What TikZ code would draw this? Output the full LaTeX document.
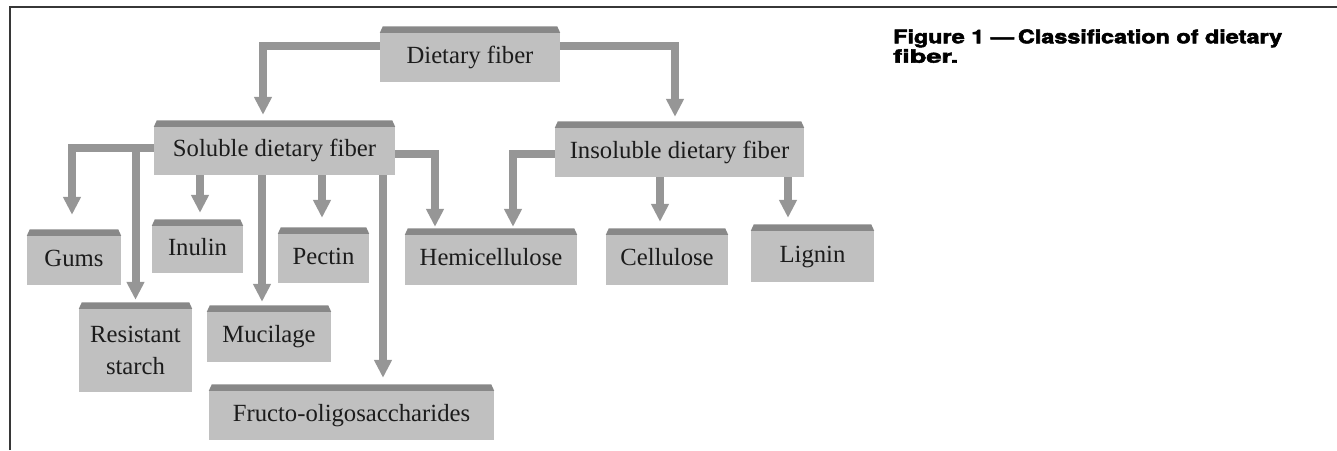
\documentclass[tikz,border=0pt]{standalone}
\usepackage{fontspec}
\usepackage{graphicx}
\setmainfont{Liberation Serif}
\newfontfamily\capfont[BoldFeatures={FakeBold=2.5}]{TeX Gyre Heros}
\usetikzlibrary{arrows.meta}
\definecolor{boxbody}{RGB}{192,192,192}
\definecolor{boxtop}{RGB}{136,136,136}
\definecolor{arrowgray}{RGB}{150,150,150}
\definecolor{ink}{RGB}{28,28,28}
\definecolor{framec}{RGB}{55,55,55}
\begin{document}
\begin{tikzpicture}[x=1pt,y=-1pt,
  box/.style={fill=boxbody, text=ink, inner sep=0pt,
    font=\fontsize{24.7}{28}\selectfont, text height=17pt, text depth=5.5pt},
  arr/.style={draw=arrowgray, line width=8pt,
    -{Triangle[width=17pt,length=18pt]}},
  capline/.style={anchor=base west, inner sep=0pt, text=black,
    font=\capfont\bfseries\fontsize{19.5}{19.4}\selectfont},
]
\useasboundingbox (0,0) rectangle (1337,450);

% frame
\draw[framec, line width=1.5pt] (10,450) -- (10,7) -- (1337,7);

% caption, set line by line
\node[capline] (cap1) at (893,43.3)
  {\resizebox{389pt}{14pt}{Figure 1 \textemdash\,Classification of dietary}};
\node[capline] (cap2) at (893,62.7) {\resizebox{65pt}{13.6pt}{fiber.}};

% boxes (body only; the darker top strip is added below)
\node[box, minimum width=180pt, minimum height=49pt] (df)  at (470,57.5) {Dietary fiber};
\node[box, minimum width=241pt, minimum height=48pt] (sol) at (274.5,151) {Soluble dietary fiber};
\node[box, minimum width=249pt, minimum height=49pt] (ins) at (679.5,152.5) {Insoluble dietary fiber};
\node[box, minimum width=94pt,  minimum height=49pt] (gums) at (74,260.5) {Gums};
\node[box, minimum width=91pt,  minimum height=47pt] (inu) at (197.5,249.5) {Inulin};
\node[box, minimum width=91pt,  minimum height=49pt] (pec) at (323.5,258.5) {Pectin};
\node[box, minimum width=172pt, minimum height=50pt] (hemi) at (491,260) {Hemicellulose};
\node[box, minimum width=122pt, minimum height=50pt] (cell) at (667,260) {Cellulose};
\node[box, minimum width=123pt, minimum height=51pt] (lig) at (812.5,256.5) {Lignin};
\node[box, minimum width=113pt, minimum height=83pt, align=center,
  text height=, text depth=, font=\fontsize{24.7}{32.5}\selectfont] (res) at (135.5,350.5) {Resistant\\starch};
\node[box, minimum width=124pt, minimum height=50pt] (muc) at (269,337) {Mucilage};
\node[box, minimum width=285pt, minimum height=49pt] (fos) at (351.5,415.5) {Fructo-oligosaccharides};

% bevelled top strips
\foreach \n in {df,sol,ins,gums,inu,pec,hemi,cell,lig,res,muc,fos}
  \fill[boxtop] (\n.north west) -- ([shift={(3pt,6.5pt)}]\n.north west)
    -- ([shift={(-3pt,6.5pt)}]\n.north east) -- (\n.north east) -- cycle;

% connectors
\draw[arr] ([yshift=11.5pt]df.west) -| ([xshift=-11.5pt,yshift=12pt]sol.north);
\draw[arr] ([yshift=11.5pt]df.east) -| ([xshift=-4.5pt,yshift=11pt]ins.north);

\draw[arr] ([yshift=3pt]sol.west) -| ([xshift=-2pt,yshift=21pt]gums.north);
\draw[arr] ([yshift=3pt]sol.west) -| ([yshift=9pt]res.north);
\draw[arr] ([xshift=2.5pt]inu.north |- sol.south) -- ([xshift=2.5pt,yshift=13pt]inu.north);
\draw[arr] ([xshift=-7pt]muc.north |- sol.south) -- ([xshift=-7pt,yshift=10pt]muc.north);
\draw[arr] ([xshift=-1.5pt]pec.north |- sol.south) -- ([xshift=-1.5pt,yshift=16pt]pec.north);
\draw[arr] ([xshift=31.5pt]fos.north |- sol.south) -- ([xshift=31.5pt,yshift=13pt]fos.north);
\draw[arr] ([yshift=-3pt]sol.east) -| ([xshift=-56pt,yshift=8pt]hemi.north);

\draw[arr] ([yshift=-1.5pt]ins.west) -| ([xshift=22pt,yshift=8pt]hemi.north);
\draw[arr] ([xshift=-7pt]cell.north |- ins.south) -- ([xshift=-7pt,yshift=13pt]cell.north);
\draw[arr] ([xshift=-24.5pt]lig.north |- ins.south) -- ([xshift=-24.5pt,yshift=13pt]lig.north);
\end{tikzpicture}
\end{document}
